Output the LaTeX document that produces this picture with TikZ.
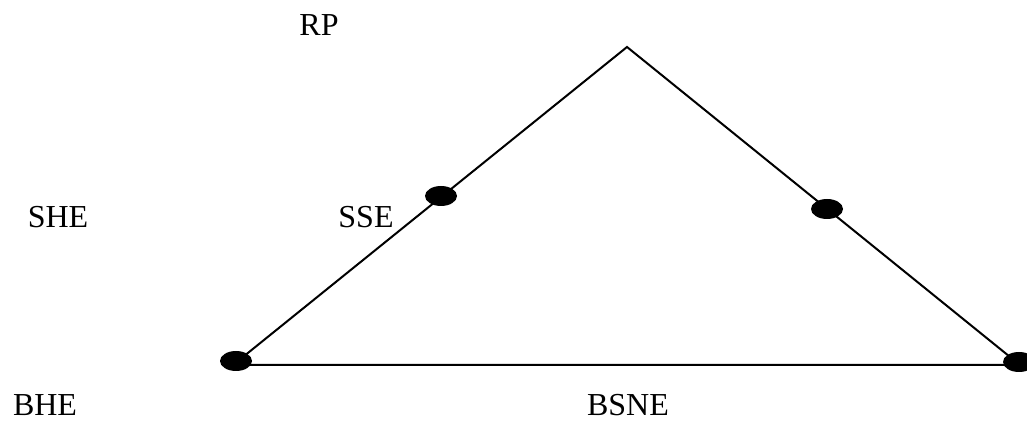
\documentclass[tikz,border=0pt]{standalone}
\usepackage{fontspec}
\setmainfont{Liberation Serif}
\usetikzlibrary{positioning, shapes.geometric}
\tikzset{
    rpEdge/.style={draw=black, line width=1pt},
    rpDot/.style={
        ellipse,
        fill=black,
        draw=none,
        minimum width=16pt,
        minimum height=10pt,
        inner sep=0pt
    },
    rpLabel/.style={font=\fontsize{16}{19}\selectfont, inner sep=0pt}
}

\begin{document}
\begin{tikzpicture}[x=0.5pt, y=-0.5pt]
    \useasboundingbox (0,0) rectangle (1027,421);

    % triangle corners
    \coordinate (apex) at (627,47);
    \coordinate (leftCorner) at (233,365);
    \coordinate (rightCorner) at (1020,365);

    \draw[rpEdge] (apex) -- (leftCorner) -- (rightCorner) -- cycle;

    % dots
    \node[rpDot] (sseDot) at (441,196) {};
    \node[rpDot] (rightDot) at (827,209) {};
    \node[rpDot] (bheDot) at (236,361) {};
    \node[rpDot] (bsneDot) at (1019,362) {};

    % labels
    \node[rpLabel] (rp) at (319,25) {RP};
    \node[rpLabel] (she) at (58,217) {SHE};
    \node[rpLabel] (sse) at (366,217) {SSE};
    \node[rpLabel] (bhe) at (45,405) {BHE};
    \node[rpLabel] (bsne) at (628,405) {BSNE};
\end{tikzpicture}
\end{document}
